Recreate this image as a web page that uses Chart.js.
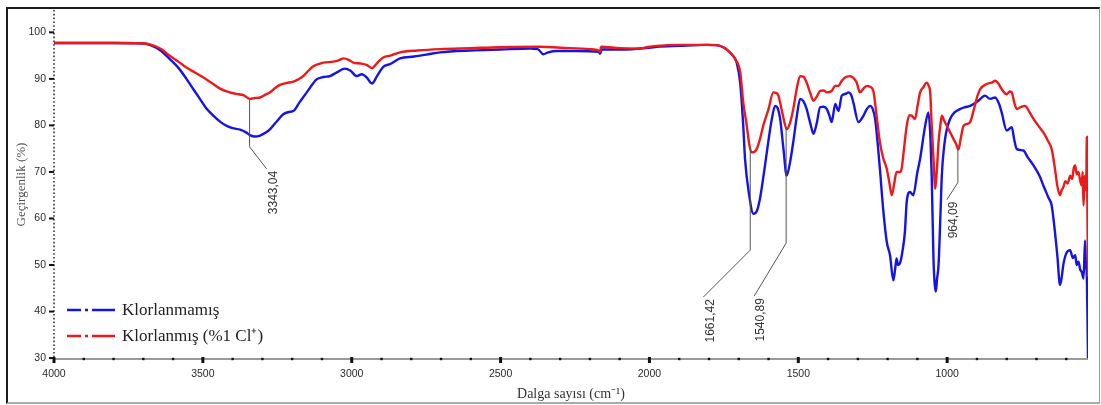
<!DOCTYPE html>
<html>
<head>
<meta charset="utf-8">
<script src="https://cdn.jsdelivr.net/npm/chart.js@4.4.1/dist/chart.umd.min.js"></script>
<style>
body { margin: 0; background: #fff; }
#wrap { position: relative; width: 1101px; height: 405px; }
#frame { position: absolute; left: 6px; top: 7px; width: 1094px; height: 397px; box-sizing: border-box;
  border-top: 2px solid #1a1a1a; border-left: 2px solid #1a1a1a; border-right: 1px solid #999; border-bottom: 2px solid #aaa;
  pointer-events: none; }
</style>
</head>
<body>
<div id="wrap">
  <canvas id="irChart" width="1101" height="405"></canvas>
  <div id="frame"></div>
</div>
<script>
// spectrum data (wavenumber cm-1, transmittance %)
var seriesNames = ['Klorlanmamış', 'Klorlanmış (%1 Cl⁺)'];
var xTitle = 'Dalga sayısı (cm⁻¹)';
var yTitle = 'Geçirgenlik (%)';
var xTicks = [1000, 1500, 2000, 2500, 3000, 3500, 4000];
var yTicks = [30, 40, 50, 60, 70, 80, 90, 100];

var wnBlue = [4000, 3800, 3700, 3678, 3640, 3610, 3580, 3554, 3530, 3510, 3490, 3465, 3440, 3420, 3400, 3375, 3355, 3342, 3325, 3308,
  3290, 3274, 3250, 3230, 3210, 3196, 3175, 3151, 3130, 3118, 3095, 3073, 3050, 3023, 3005, 2983, 2966, 2950, 2932, 2915,
  2894, 2870, 2838, 2790, 2750, 2703, 2600, 2500, 2400, 2375, 2357, 2340, 2312, 2250, 2170, 2166, 2160, 2100, 2000, 1975,
  1900, 1808, 1770, 1752, 1735, 1720, 1707, 1695, 1685, 1679, 1665, 1651, 1640, 1629, 1615, 1601, 1590, 1578, 1570, 1561,
  1550, 1539, 1528, 1517, 1505, 1494, 1483, 1472, 1460, 1449, 1438, 1427, 1415, 1404, 1395, 1388, 1376, 1365, 1354, 1340,
  1332, 1322, 1315, 1298, 1281, 1270, 1259, 1250, 1242, 1234, 1226, 1215, 1203, 1192, 1181, 1175, 1170, 1165, 1159, 1150,
  1142, 1136, 1125, 1114, 1100, 1091, 1074, 1063, 1056, 1052, 1046, 1042, 1038, 1034, 1029, 1022, 1018, 1007, 990, 975,
  957, 940, 923, 895, 873, 856, 839, 825, 817, 800, 783, 775, 766, 744, 730, 710, 690, 677, 660, 649,
  638, 630, 621, 615, 610, 600, 587, 578, 570, 565, 559, 553, 548, 542, 537, 534, 531, 529, 527];
var tBlue = [97.7, 97.7, 97.6, 97.3, 96.0, 94.2, 92.2, 89.9, 87.6, 85.7, 83.8, 82.1, 80.7, 79.9, 79.4, 79.1, 78.5, 77.9, 77.6, 77.8,
  78.4, 79.2, 81.0, 82.4, 82.9, 83.1, 85.0, 87.1, 89.0, 89.9, 90.4, 90.6, 91.4, 92.2, 91.8, 90.6, 91.0, 90.3, 89.0, 90.6,
  92.6, 93.2, 94.4, 94.8, 95.2, 95.7, 96.1, 96.3, 96.5, 96.4, 95.3, 95.7, 96.0, 96.0, 95.8, 95.4, 96.3, 96.3, 96.7, 96.9,
  97.1, 97.3, 97.2, 96.8, 96.0, 95.0, 93.5, 89.0, 80.0, 72.8, 65.0, 61.0, 61.5, 64.2, 70.0, 76.4, 81.0, 84.2, 83.8, 81.4,
  75.0, 69.2, 72.0, 76.4, 82.0, 85.7, 85.2, 83.5, 80.5, 78.2, 80.5, 83.9, 84.0, 83.5, 82.0, 80.7, 84.6, 83.1, 86.4, 86.8,
  87.1, 86.5, 84.9, 80.7, 82.1, 83.5, 84.2, 83.5, 81.4, 76.5, 70.7, 62.0, 55.0, 52.1, 46.7, 49.0, 51.4, 50.0, 50.3, 53.0,
  57.1, 63.5, 65.7, 65.0, 70.0, 72.8, 79.9, 82.8, 77.0, 69.2, 51.4, 46.0, 44.3, 47.0, 50.0, 62.0, 69.2, 77.1, 81.4, 82.8,
  83.5, 83.9, 84.2, 85.3, 86.4, 85.7, 86.0, 84.5, 82.8, 78.9, 79.6, 77.0, 74.9, 74.6, 73.2, 71.4, 69.2, 67.1, 64.5, 62.8,
  57.1, 52.0, 45.7, 47.5, 50.0, 52.5, 53.2, 51.5, 52.1, 50.0, 50.7, 49.0, 48.5, 47.1, 55.3, 50.0, 47.8, 40.0, 29.7];

var wnRed = [4000, 3800, 3700, 3678, 3640, 3610, 3580, 3554, 3525, 3498, 3470, 3442, 3420, 3398, 3380, 3364, 3342, 3325, 3308, 3290,
  3274, 3258, 3241, 3220, 3196, 3180, 3163, 3145, 3129, 3110, 3095, 3062, 3040, 3028, 3010, 2995, 2970, 2950, 2932, 2915,
  2894, 2870, 2838, 2780, 2703, 2600, 2500, 2367, 2300, 2200, 2170, 2166, 2162, 2100, 2040, 2000, 1975, 1900, 1808, 1770,
  1752, 1735, 1720, 1712, 1695, 1685, 1673, 1665, 1657, 1648, 1640, 1629, 1618, 1600, 1584, 1575, 1567, 1553, 1539, 1528,
  1517, 1505, 1494, 1483, 1472, 1460, 1449, 1438, 1427, 1415, 1404, 1388, 1376, 1365, 1355, 1343, 1326, 1315, 1304, 1293,
  1280, 1270, 1259, 1248, 1237, 1226, 1215, 1203, 1195, 1186, 1178, 1170, 1159, 1153, 1145, 1136, 1127, 1119, 1108, 1100,
  1091, 1080, 1069, 1062, 1057, 1052, 1046, 1040, 1035, 1029, 1023, 1018, 1010, 1001, 990, 979, 970, 962, 955, 945,
  934, 923, 910, 900, 889, 867, 850, 839, 828, 817, 800, 790, 783, 775, 766, 752, 738, 725, 710, 690,
  677, 660, 649, 638, 630, 621, 616, 610, 603, 595, 587, 580, 575, 570, 565, 559, 553, 548, 545, 542,
  539, 537, 533, 531, 529, 527];
var tRed = [97.7, 97.7, 97.6, 97.4, 96.4, 94.9, 93.6, 92.4, 91.3, 90.3, 89.1, 87.9, 87.3, 86.9, 86.7, 86.5, 85.7, 85.9, 86.0, 86.6,
  87.1, 88.0, 88.7, 89.1, 89.4, 89.9, 90.6, 91.8, 92.7, 93.2, 93.5, 93.7, 94.1, 94.4, 94.1, 93.5, 93.3, 93.0, 92.3, 93.4,
  94.6, 95.0, 95.7, 96.1, 96.4, 96.6, 96.8, 96.9, 96.7, 96.4, 96.1, 95.8, 96.9, 96.6, 96.5, 96.9, 97.1, 97.3, 97.3, 97.2,
  96.8, 96.0, 95.0, 94.2, 91.4, 85.0, 79.9, 76.0, 74.2, 74.3, 74.9, 77.0, 79.9, 83.5, 87.1, 87.0, 86.4, 82.5, 79.2, 80.5,
  83.5, 88.0, 90.6, 90.5, 89.2, 87.0, 85.3, 86.2, 87.4, 87.5, 87.1, 87.4, 88.5, 88.5, 89.5, 90.3, 90.6, 90.2, 89.2, 87.1,
  88.0, 88.5, 88.3, 87.4, 82.0, 76.4, 73.0, 70.7, 68.0, 65.0, 67.5, 70.0, 70.0, 70.7, 75.0, 79.9, 82.2, 82.1, 81.4, 84.0,
  87.1, 88.2, 89.2, 88.5, 87.1, 80.0, 72.8, 66.4, 70.0, 76.4, 80.0, 82.1, 81.0, 79.9, 78.5, 77.1, 76.0, 74.8, 77.0, 79.9,
  80.3, 80.7, 83.5, 86.0, 87.8, 88.9, 89.2, 89.6, 89.0, 87.8, 86.7, 87.3, 87.1, 85.0, 83.5, 84.0, 84.2, 83.0, 81.4, 79.6,
  78.5, 76.5, 74.9, 70.7, 67.0, 65.0, 66.0, 66.7, 68.0, 67.5, 69.2, 68.5, 70.8, 71.4, 69.5, 70.0, 68.0, 67.1, 70.0, 62.8,
  68.0, 69.2, 66.0, 77.5, 62.0, 47.5];

// marked peaks
var peakWn = [3343.04, 1661.42, 1540.89, 964.09];
var peakLabels = ['3343,04', '1661,42', '1540,89', '964,09'];
// leader geometry: bend level (in %), then diagonal offset in px
var peakLeaders = [
  { bend: 75.4, dx: 17, dy: 22 },
  { bend: 53.2, dx: -47, dy: 47 },
  { bend: 54.7, dx: -32, dy: 53 },
  { bend: 67.7, dx: -11, dy: 17 }
];

function toXY(xs, ys) {
  return xs.map(function (x, i) { return { x: x, y: ys[i] }; });
}
function interp(xs, ys, x) {
  for (var i = 0; i < xs.length - 1; i++) {
    if (x <= xs[i] && x >= xs[i + 1]) {
      var f = (xs[i] - x) / (xs[i] - xs[i + 1]);
      return ys[i] + f * (ys[i + 1] - ys[i]);
    }
  }
  return ys[ys.length - 1];
}

var tickFont = { family: 'Liberation Sans', size: 10.5 };

var decor = {
  id: 'decor',
  afterDatasetsDraw: function (chart) {
    var c = chart.ctx, xs = chart.scales.x, ys = chart.scales.y;
    c.save();
    // peak callouts
    c.strokeStyle = '#555';
    c.lineWidth = 1;
    c.fillStyle = '#333';
    c.font = '12px "Liberation Sans"';
    peakWn.forEach(function (wn, i) {
      var px = xs.getPixelForValue(wn);
      var top = ys.getPixelForValue(interp(wnRed, tRed, wn));
      var bend = ys.getPixelForValue(peakLeaders[i].bend);
      var ex = px + peakLeaders[i].dx, ey = bend + peakLeaders[i].dy;
      c.beginPath();
      c.moveTo(px, top);
      c.lineTo(px, bend);
      c.lineTo(ex, ey);
      c.stroke();
      c.save();
      c.translate(ex + 7, ey + 2);
      c.rotate(-Math.PI / 2);
      c.textAlign = 'right';
      c.textBaseline = 'middle';
      c.fillText(peakLabels[i], 0, 0);
      c.restore();
    });
    c.restore();
  },
  afterDraw: function (chart) {
    var c = chart.ctx, a = chart.chartArea, xs = chart.scales.x, ys = chart.scales.y;
    c.save();
    // x axis
    c.strokeStyle = '#9a9a9a';
    c.lineWidth = 2;
    c.beginPath();
    c.moveTo(a.left, a.bottom);
    c.lineTo(a.right, a.bottom);
    c.stroke();
    c.fillStyle = '#111';
    for (var w = 600; w <= 4000; w += 100) {
      var x = xs.getPixelForValue(w);
      if (w % 500 === 0) c.fillRect(x - 1.5, a.bottom - 2, 3, 6);
      else c.fillRect(x - 1.2, a.bottom - 1.2, 2.4, 2.4);
    }
    // y axis, dotted
    c.strokeStyle = '#333';
    c.lineWidth = 1.6;
    c.setLineDash([1.6, 2.2]);
    c.beginPath();
    c.moveTo(a.left, a.top);
    c.lineTo(a.left, a.bottom);
    c.stroke();
    c.setLineDash([]);
    c.lineWidth = 2;
    c.strokeStyle = '#111';
    yTicks.forEach(function (v) {
      var y = ys.getPixelForValue(v);
      c.beginPath();
      c.moveTo(a.left - 5, y);
      c.lineTo(a.left, y);
      c.stroke();
    });
    // legend inside plot, dash-dot samples
    chart.data.datasets.forEach(function (ds, i) {
      var y = 310 + i * 26;
      c.strokeStyle = ds.borderColor;
      c.lineWidth = 2.4;
      c.beginPath();
      c.moveTo(67, y); c.lineTo(81, y);
      c.moveTo(85, y); c.lineTo(88, y);
      c.moveTo(92, y); c.lineTo(115, y);
      c.stroke();
      c.fillStyle = '#222';
      c.font = '17px "Liberation Serif"';
      c.textBaseline = 'middle';
      c.fillText(ds.label, 122, y + 1);
    });
    c.restore();
  }
};

var ctx = document.getElementById('irChart').getContext('2d');
var myChart = new Chart(ctx, {
  type: 'line',
  data: {
    datasets: [{
      label: seriesNames[0],
      data: toXY(wnBlue, tBlue),
      borderColor: '#1414e6',
      borderWidth: 2.4,
      pointRadius: 0,
      cubicInterpolationMode: 'monotone',
      order: 1
    }, {
      label: seriesNames[1],
      data: toXY(wnRed, tRed),
      borderColor: '#ee1a1a',
      borderWidth: 2.4,
      pointRadius: 0,
      cubicInterpolationMode: 'monotone',
      order: 0
    }]
  },
  options: {
    responsive: false,
    animation: false,
    layout: { padding: { top: 10, right: 13, left: 0, bottom: 0 } },
    plugins: { legend: { display: false }, tooltip: { enabled: false } },
    scales: {
      x: {
        type: 'linear',
        reverse: true,
        min: 527,
        max: 4000,
        afterBuildTicks: function (s) { s.ticks = xTicks.map(function (v) { return { value: v }; }); },
        afterFit: function (s) { s.height = 46; },
        grid: { display: false, drawTicks: true, tickLength: 8 },
        border: { display: false },
        ticks: { font: tickFont, color: '#2a2a2a', padding: 1, maxRotation: 0,
          callback: function (v) { return String(v); } },
        title: { display: true, text: xTitle, color: '#333',
          font: { family: 'Liberation Serif', size: 14 }, padding: { top: 0, bottom: 2 } }
      },
      y: {
        min: 29.8,
        max: 104.8,
        afterBuildTicks: function (s) { s.ticks = yTicks.map(function (v) { return { value: v }; }); },
        afterFit: function (s) { s.width = 54; },
        grid: { display: false, drawTicks: true, tickLength: 8 },
        border: { display: false },
        ticks: { font: tickFont, color: '#2a2a2a', padding: 0,
          callback: function (v) { return String(v); } },
        title: { display: true, text: yTitle, color: '#555',
          font: { family: 'Liberation Serif', size: 13 }, padding: { top: 14, bottom: 0 } }
      }
    }
  },
  plugins: [decor]
});
</script>
</body>
</html>
